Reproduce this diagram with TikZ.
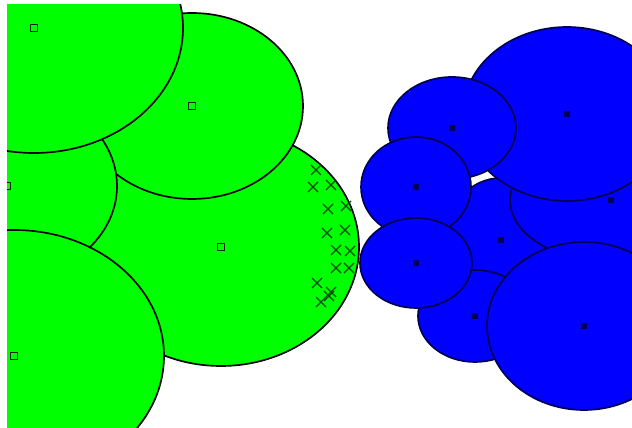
\documentclass[tikz,border=0pt]{standalone}
\usetikzlibrary{calc}
\begin{document}
\begin{tikzpicture}[x=0.02cm, y=-0.02cm]
    \tikzset{gblob/.style={fill=green, draw=black, line width=0.95pt}}
    \tikzset{bblob/.style={fill=blue, draw=blue!30!black, line width=0.95pt}}
    \tikzset{gmark/.style={draw=black!85!green, line width=0.8pt}}
    \tikzset{bmark/.style={fill=blue!35!black}}
    \tikzset{xmark/.style={draw=green!30!black, line width=0.7pt}}

    \useasboundingbox (0,0) rectangle (632,428);
    \clip (7,5) rectangle (632,428);

    % Cluster centres
    \coordinate (g1) at (34,28);
    \coordinate (g2) at (192,106);
    \coordinate (g3) at (7,186);
    \coordinate (g4) at (221,247);
    \coordinate (g5) at (14,356);
    \coordinate (b1) at (567,114);
    \coordinate (b2) at (452,128);
    \coordinate (b3) at (416,187);
    \coordinate (b4) at (416,263);
    \coordinate (b5) at (501,240);
    \coordinate (b6) at (611,200);
    \coordinate (b7) at (584,326);
    \coordinate (b8) at (475,316);

    % Green cluster
    \draw [gblob] (g4) ellipse [x radius=138, y radius=119];
    \draw [gblob] (g2) ellipse [x radius=111, y radius=93];
    \draw [gblob] (g3) ellipse [x radius=110, y radius=93];
    \draw [gblob] (g1) ellipse [x radius=149, y radius=125];
    \draw [gblob] (g5) ellipse [x radius=150, y radius=126];

    % Blue cluster
    \draw [bblob] (b5) ellipse [x radius=56, y radius=62];
    \draw [bblob] (b6) ellipse [x radius=101, y radius=62];
    \draw [bblob] (b1) ellipse [x radius=104, y radius=87];
    \draw [bblob] (b8) ellipse [x radius=57, y radius=46];
    \draw [bblob] (b7) ellipse [x radius=97, y radius=84];
    \draw [bblob] (b2) ellipse [x radius=64, y radius=51];
    \draw [bblob] (b3) ellipse [x radius=55, y radius=50];
    \draw [bblob] (b4) ellipse [x radius=56, y radius=45];

    % Crosses on the border of the green cluster
    \foreach \x/\y in {316/170, 331/185, 313/187, 346/206, 328/209, 327/233, 345/230,
                       336/250, 350/251, 336/268, 349/268, 317/283, 331/292, 321/302, 329/296}
        \draw [xmark] (\x-5,\y-5) -- (\x+5,\y+5) (\x-5,\y+5) -- (\x+5,\y-5);

    % Centre markers
    \foreach \c in {g1,g2,g3,g4,g5}
        \draw [gmark] ($(\c)+(-3.5,-3.5)$) rectangle ($(\c)+(3.5,3.5)$);
    \foreach \c in {b1,b2,b3,b4,b5,b6,b7,b8}
        \fill [bmark] ($(\c)+(-3,-3)$) rectangle ($(\c)+(3,3)$);
\end{tikzpicture}
\end{document}
